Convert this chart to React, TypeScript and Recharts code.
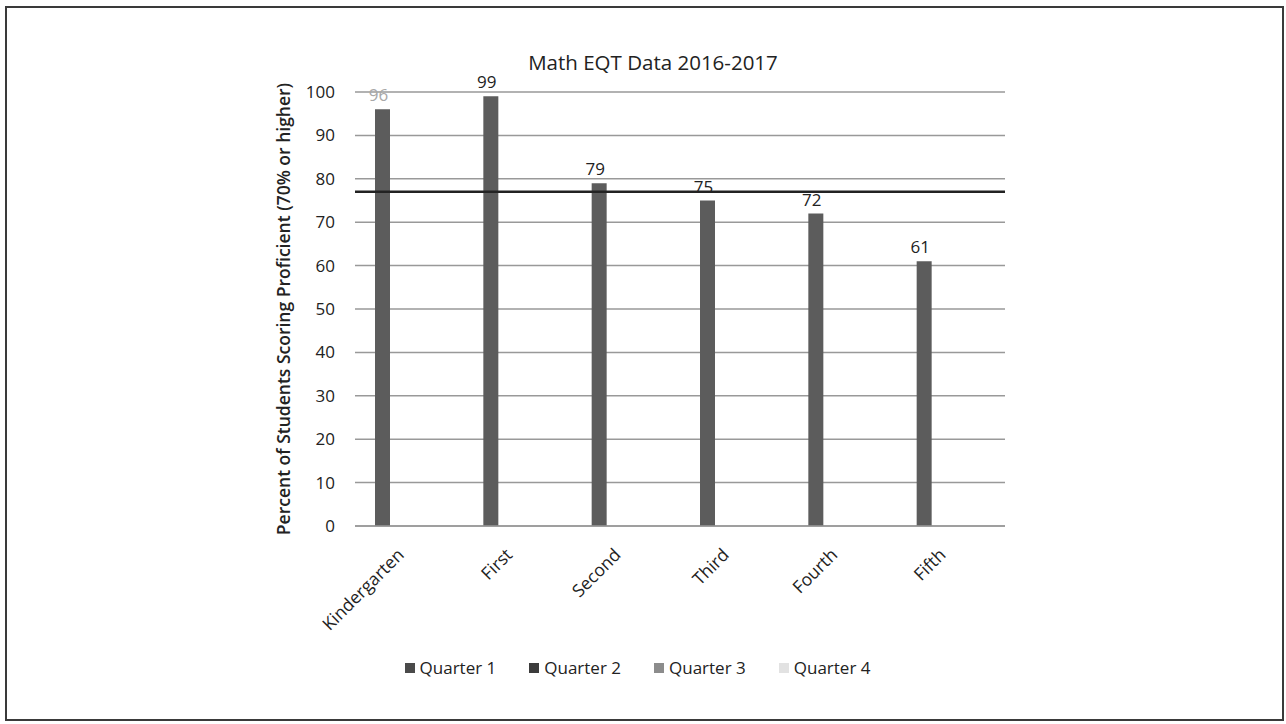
import { BarChart, Bar, XAxis, YAxis, CartesianGrid, Legend, LabelList, ReferenceLine } from 'recharts';

// grades on the x axis
const grades = ['Kindergarten', 'First', 'Second', 'Third', 'Fourth', 'Fifth'];
// only quarter 1 has results so far
const quarter1 = [96, 99, 79, 75, 72, 61];
const quarter2: (number | null)[] = [null, null, null, null, null, null];
const quarter3: (number | null)[] = [null, null, null, null, null, null];
const quarter4: (number | null)[] = [null, null, null, null, null, null];
const quarterNames = ['Quarter 1', 'Quarter 2', 'Quarter 3', 'Quarter 4'];
const yTicks = [0, 10, 20, 30, 40, 50, 60, 70, 80, 90, 100];
const targetLine = 77;

const quarterColors = ['#4a4a4a', '#3c3c3c', '#8c8c8c', '#e2e2e2'];
const FONT = '"Open Sans", "DejaVu Sans", sans-serif';

const data = grades.map((g, i) => ({
  grade: g,
  q1: quarter1[i],
  q2: quarter2[i],
  q3: quarter3[i],
  q4: quarter4[i],
}));

const GradeTick = (props: any) => {
  const { x, y, payload } = props;
  const tx = x - 4;
  const ty = y + 22;
  return (
    <text
      x={tx}
      y={ty}
      transform={`rotate(-45, ${tx}, ${ty})`}
      textAnchor="end"
      fontSize={17.5}
      fontFamily={FONT}
      fill="#222"
    >
      {payload.value}
    </text>
  );
};

const ValueLabel = (props: any) => {
  const { x, y, width, value, index } = props;
  if (value == null) return null;
  return (
    <text
      x={x + width / 2 - 4}
      y={y - 8}
      textAnchor="middle"
      fontSize={17}
      fontFamily={FONT}
      fill={index === 0 ? '#a8a8a8' : '#222'}
    >
      {value}
    </text>
  );
};

const QuarterLegend = () => (
  <div style={{ display: 'flex', justifyContent: 'center', gap: 33, fontFamily: FONT, fontSize: 17, color: '#222' }}>
    {quarterNames.map((name, i) => (
      <div key={name} style={{ display: 'flex', alignItems: 'center', gap: 5 }}>
        <span style={{ width: 10, height: 10, background: quarterColors[i], display: 'inline-block' }} />
        <span>{name}</span>
      </div>
    ))}
  </div>
);

export default function App() {
  return (
    <div style={{ position: 'absolute', left: 0, top: 0, width: 1286, height: 724, background: '#fff' }}>
      <div
        style={{
          position: 'absolute',
          left: 5,
          top: 6,
          width: 1275,
          height: 711,
          border: '2px solid #3a3a3a',
        }}
      />
      <div
        style={{
          position: 'absolute',
          top: 48,
          left: 10,
          width: 1286,
          textAlign: 'center',
          fontFamily: FONT,
          fontSize: 20.5,
          color: '#222',
        }}
      >
        Math EQT Data 2016-2017
      </div>
      <div style={{ position: 'absolute', left: 0, top: 0 }}>
        <BarChart
          width={1286}
          height={724}
          data={data}
          margin={{ top: 92, right: 281, bottom: 45, left: 270 }}
          barGap={3}
          barSize={15}
        >
          <CartesianGrid vertical={false} stroke="#999" strokeWidth={1.5} />
          <XAxis
            dataKey="grade"
            tick={<GradeTick />}
            tickLine={false}
            axisLine={{ stroke: '#999', strokeWidth: 1.5 }}
            interval={0}
            height={130}
          />
          <YAxis
            domain={[0, 100]}
            ticks={yTicks}
            width={85}
            tickMargin={14}
            axisLine={false}
            tickLine={false}
            tick={{ fontSize: 17, fontFamily: FONT, fill: '#222' }}
            label={{
              value: 'Percent of Students Scoring Proficient (70% or higher)',
              angle: -90,
              position: 'insideLeft',
              offset: 14,
              style: { textAnchor: 'middle', fontSize: 17.5, fontFamily: FONT, fill: '#222', fontWeight: 600 },
            }}
          />
          <Legend content={<QuarterLegend />} verticalAlign="bottom" />
          <Bar dataKey="q1" name={quarterNames[0]} fill="#5c5c5c" isAnimationActive={false}>
            <LabelList dataKey="q1" content={<ValueLabel />} />
          </Bar>
          <Bar dataKey="q2" name={quarterNames[1]} fill={quarterColors[1]} isAnimationActive={false} />
          <Bar dataKey="q3" name={quarterNames[2]} fill={quarterColors[2]} isAnimationActive={false} />
          <Bar dataKey="q4" name={quarterNames[3]} fill={quarterColors[3]} isAnimationActive={false} />
          <ReferenceLine y={targetLine} stroke="#222" strokeWidth={2.5} />
        </BarChart>
      </div>
    </div>
  );
}
